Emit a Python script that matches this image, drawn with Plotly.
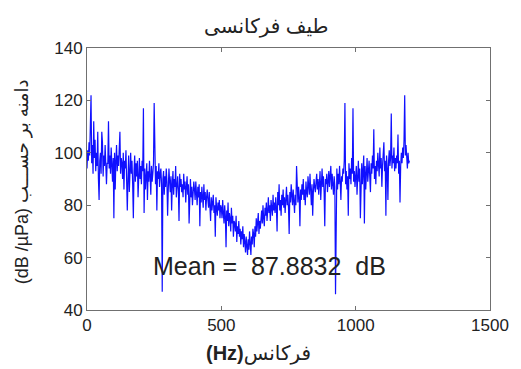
import plotly.graph_objects as go

step_hz = 2.5
amplitude_db = [
    94, 101, 97, 104, 99, 110, 122, 96, 103, 92, 112, 98, 105, 93, 100, 95, 108, 90, 82, 97,
    100, 92, 108, 104, 91, 99, 95, 103, 97, 88, 96, 96, 112, 94, 99, 92, 102, 96, 89, 98,
    75, 100, 86, 97, 103, 93, 99, 95, 101, 108, 92, 98, 96, 90, 100, 86, 97, 94, 101, 93,
    78, 90, 99, 85, 94, 100, 92, 97, 88, 75, 93, 99, 89, 96, 91, 97, 83, 94, 98, 90,
    95, 88, 97, 93, 117, 77, 94, 86, 92, 96, 82, 93, 89, 97, 91, 84, 95, 89, 92, 96,
    119, 91, 88, 95, 78, 93, 90, 96, 87, 92, 94, 88, 47, 90, 93, 84, 91, 87, 94, 89,
    76, 86, 94, 89, 85, 91, 78, 88, 93, 84, 90, 87, 95, 83, 88, 91, 86, 74, 92, 87,
    90, 85, 88, 83, 92, 86, 89, 81, 87, 91, 84, 88, 73, 86, 90, 83, 87, 80, 85, 89,
    86, 82, 89, 84, 80, 87, 83, 88, 72, 85, 81, 87, 84, 79, 88, 82, 85, 78, 83, 86,
    82, 79, 85, 80, 74, 83, 78, 81, 84, 77, 80, 68, 83, 79, 76, 81, 78, 82, 75, 80,
    79, 75, 82, 77, 73, 80, 76, 64, 78, 74, 81, 72, 77, 75, 70, 79, 73, 76, 68, 74,
    73, 70, 76, 66, 72, 69, 74, 68, 71, 65, 70, 67, 72, 64, 69, 66, 62, 68, 65, 61,
    67, 63, 70, 66, 61, 68, 65, 71, 69, 64, 72, 68, 75, 70, 73, 77, 69, 74, 71, 76,
    78, 73, 80, 75, 72, 79, 76, 81, 74, 78, 83, 77, 80, 74, 82, 79, 76, 84, 78, 81,
    77, 83, 79, 70, 85, 80, 88, 78, 82, 76, 84, 80, 86, 79, 83, 77, 81, 87, 80, 84,
    79, 69, 85, 81, 88, 83, 80, 86, 82, 77, 84, 80, 95, 85, 81, 87, 83, 72, 86, 82,
    88, 84, 90, 82, 86, 80, 89, 85, 83, 91, 87, 84, 92, 86, 80, 88, 76, 85, 90, 87,
    85, 89, 92, 86, 90, 84, 88, 93, 82, 89, 94, 87, 91, 85, 72, 90, 88, 92, 85, 89,
    93, 87, 90, 95, 86, 92, 88, 84, 91, 87, 46, 90, 94, 86, 92, 88, 95, 89, 82, 91,
    89, 94, 92, 97, 119, 88, 93, 86, 91, 76, 96, 90, 94, 88, 98, 92, 117, 89, 93, 87,
    90, 95, 84, 92, 97, 89, 94, 75, 91, 96, 88, 93, 99, 73, 95, 86, 92, 98, 89, 94,
    97, 91, 85, 96, 92, 99, 94, 109, 90, 95, 88, 97, 93, 100, 96, 91, 102, 94, 98, 87,
    95, 100, 104, 93, 97, 76, 99, 94, 82, 97, 101, 95, 98, 115, 94, 99, 96, 102, 93, 98,
    94, 99, 96, 107, 92, 97, 81, 95, 100, 96, 102, 98, 105, 122, 99, 103, 97, 94, 100, 96,
    97,
]
freq_hz = [i * step_hz for i in range(len(amplitude_db))]

x_ticks = [0, 500, 1000, 1500]
y_ticks = [40, 60, 80, 100, 120, 140]

title_text = "طیف فرکانسی"
y_title = "(dB /µPa) دامنه بر حســـب"
x_title = "<b>(Hz)</b>فرکانس"
mean_text = "Mean =\u00a0\u00a087.8832\u00a0\u00a0dB"

font_family = "Liberation Sans, Arial, DejaVu Sans, sans-serif"

fig = go.Figure()
fig.add_trace(go.Scatter(x=freq_hz, y=amplitude_db, mode="lines",
                         line=dict(color="#1010ff", width=1.2), showlegend=False))

axis_common = dict(showgrid=False, zeroline=False, showline=True, mirror="ticks",
                   linecolor="#707070", linewidth=1, ticks="inside", ticklen=4,
                   tickcolor="#707070", tickfont=dict(size=17, color="#222", family=font_family))
fig.update_xaxes(range=[0, 1500], tickvals=x_ticks, **axis_common)
fig.update_yaxes(range=[40, 140], tickvals=y_ticks, **axis_common)

W, H = 521, 369
ml, mr, mt, mb = 87, 23, 48, 59
fig.update_layout(width=W, height=H, margin=dict(l=ml, r=mr, t=mt, b=mb),
                  paper_bgcolor="white", plot_bgcolor="white",
                  font=dict(family=font_family, color="#222"))

def px_x(p):
    return (p - ml) / (W - ml - mr)

def px_y(p):
    return 1 - (p - mt) / (H - mt - mb)

fig.add_annotation(text=title_text, xref="paper", yref="paper", x=px_x(270), y=px_y(27),
                   showarrow=False, font=dict(size=20, color="#222"), xanchor="center", yanchor="middle")
fig.add_annotation(text=x_title, xref="paper", yref="paper", x=px_x(262), y=px_y(353),
                   showarrow=False, font=dict(size=20, color="#222"), xanchor="center", yanchor="middle")
fig.add_annotation(text=y_title, xref="paper", yref="paper", x=px_x(21), y=px_y(182),
                   showarrow=False, textangle=-90, font=dict(size=18, color="#222"),
                   xanchor="center", yanchor="middle")
fig.add_annotation(text=mean_text, xref="x", yref="y", x=237, y=56.8,
                   showarrow=False, font=dict(size=25, color="#222"), xanchor="left", yanchor="middle")

fig.write_html("out.html")
